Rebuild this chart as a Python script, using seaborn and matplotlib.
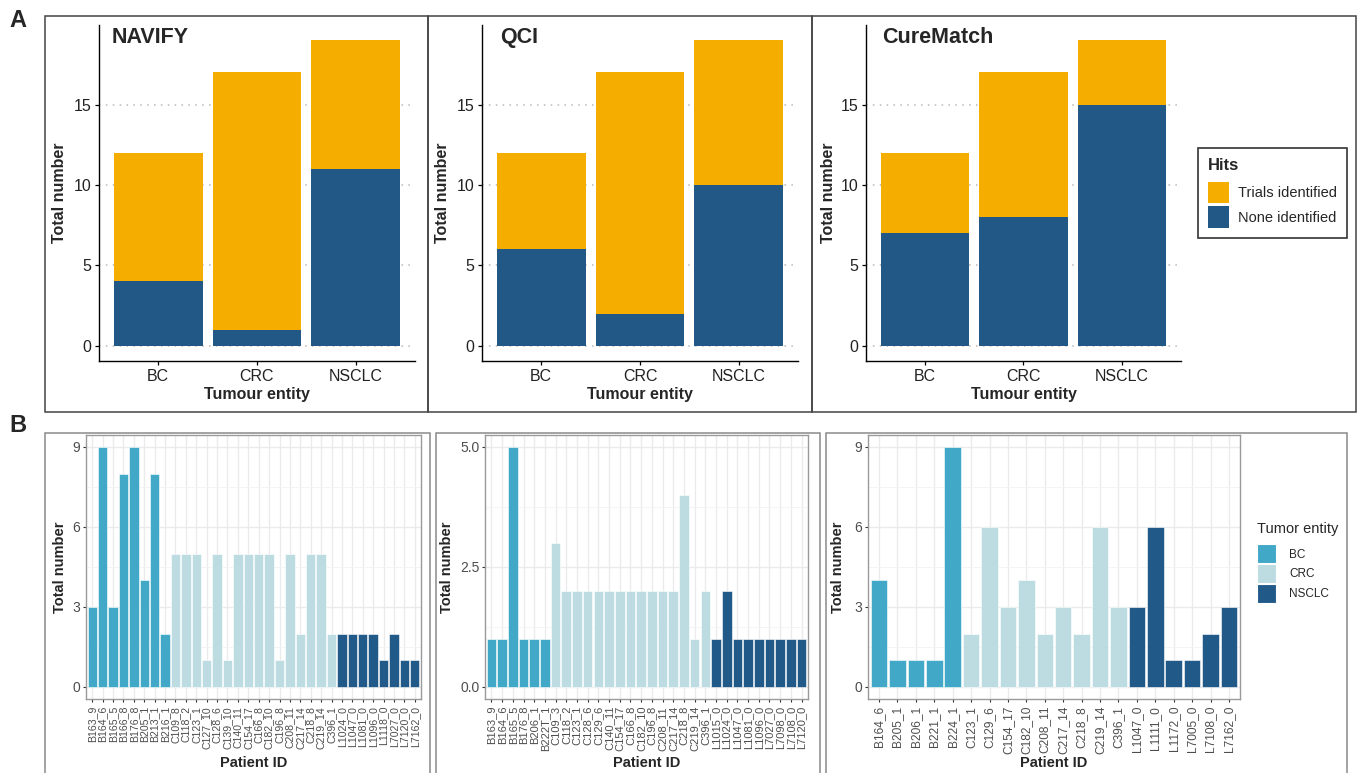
import numpy as np
import pandas as pd
import matplotlib
matplotlib.use("Agg")
import matplotlib.pyplot as plt
import seaborn as sns
from matplotlib.patches import Rectangle, Patch

# ---------------- data ----------------
entities = ["BC", "CRC", "NSCLC"]
tools = ["NAVIFY", "QCI", "CureMatch"]
totals = [12, 17, 19]
none_navify = [4, 1, 11]
none_qci = [6, 2, 10]
none_curematch = [7, 8, 15]
hits_labels = ["Trials identified", "None identified"]

b1_ids = ["B163_9", "B164_6", "B165_5", "B166_8", "B176_8", "B205_1", "B213_1", "B216_1",
          "C109_8", "C118_2", "C123_1", "C127_10", "C128_6", "C139_10", "C140_11", "C154_17",
          "C166_8", "C182_10", "C196_8", "C208_11", "C217_14", "C218_8", "C219_14", "C396_1",
          "L1024_0", "L1047_0", "L1081_0", "L1096_0", "L1118_0", "L7027_0", "L7120_0", "L7162_0"]
b1_vals = [3, 9, 3, 8, 9, 4, 8, 2,
           5, 5, 5, 1, 5, 1, 5, 5, 5, 5, 1, 5, 2, 5, 5, 2,
           2, 2, 2, 2, 1, 2, 1, 1]

b2_ids = ["B163_9", "B164_6", "B165_5", "B176_8", "B206_1", "B222T_1",
          "C109_3", "C118_2", "C123_1", "C128_6", "C129_6", "C140_11", "C154_17", "C166_8",
          "C182_10", "C196_8", "C208_11", "C217_14", "C218_8", "C219_14", "C396_1",
          "L1015_0", "L1024_0", "L1047_0", "L1081_0", "L1096_0", "L7027_0", "L7098_0",
          "L7108_0", "L7120_0"]
b2_vals = [1, 1, 5, 1, 1, 1,
           3, 2, 2, 2, 2, 2, 2, 2, 2, 2, 2, 2, 4, 1, 2,
           1, 2, 1, 1, 1, 1, 1, 1, 1]

b3_ids = ["B164_6", "B205_1", "B206_1", "B221_1", "B224_1",
          "C123_1", "C129_6", "C154_17", "C182_10", "C208_11", "C217_14", "C218_8", "C219_14", "C396_1",
          "L1047_0", "L1111_0", "L1172_0", "L7005_0", "L7108_0", "L7162_0"]
b3_vals = [4, 1, 1, 1, 9,
           2, 6, 3, 4, 2, 3, 2, 6, 3,
           3, 6, 1, 1, 2, 3]

prefix_entity = {"B": "BC", "C": "CRC", "L": "NSCLC"}

# ---------------- style ----------------
ORANGE = "#F5AD00"
BLUE = "#225886"
ent_pal = {"BC": "#41A8C7", "CRC": "#BCDCE2", "NSCLC": "#215A88"}

sns.set_theme(style="white")
plt.rcParams['font.family'] = ['Liberation Sans', 'DejaVu Sans']

W, H = 1362, 773
fig = plt.figure(figsize=(W / 100, H / 100), dpi=100)


def px_axes(x0, y0, x1, y1):
    return fig.add_axes([x0 / W, 1 - y1 / H, (x1 - x0) / W, (y1 - y0) / H])


def frac(rect, cx, cy):
    x0, y0, x1, y1 = rect
    return (cx - x0) / (x1 - x0), (y1 - cy) / (y1 - y0)


def box(x0, y0, x1, y1, ec, lw):
    fig.add_artist(Rectangle((x0 / W, 1 - y1 / H), (x1 - x0) / W, (y1 - y0) / H,
                             transform=fig.transFigure, fill=False, ec=ec, lw=lw))


# outer boxes
box(45, 16, 428, 412, "#444444", 1.1)
box(428, 16, 812, 412, "#444444", 1.1)
box(812, 16, 1356, 412, "#444444", 1.1)
box(45, 433, 430, 800, "#8a8a8a", 1.1)
box(436, 433, 820, 800, "#8a8a8a", 1.1)
box(826, 433, 1347, 800, "#8a8a8a", 1.1)

fig.text(9 / W, 1 - 27 / H, "A", fontsize=17, fontweight="bold", va="baseline")
fig.text(9 / W, 1 - 432 / H, "B", fontsize=17, fontweight="bold", va="baseline")

# ---------------- panel A ----------------
a_rects = [(99, 25, 415, 361), (482, 25, 798, 361), (866, 25, 1181, 361)]
a_none = [none_navify, none_qci, none_curematch]
a_ylab_x = [60, 443, 829]
a_title_x = [112, 500, 882]

for rect, name, nv, ylx, tx in zip(a_rects, tools, a_none, a_ylab_x, a_title_x):
    ax = px_axes(*rect)
    sns.barplot(x=entities, y=totals, color=ORANGE, saturation=1, width=0.9,
                errorbar=None, ax=ax, linewidth=0, zorder=2)
    sns.barplot(x=entities, y=nv, color=BLUE, saturation=1, width=0.9,
                errorbar=None, ax=ax, linewidth=0, zorder=3)
    ax.set_xlim(-0.6, 2.6)
    ax.set_ylim(-0.95, 19.95)
    ax.set_yticks([0, 5, 10, 15])
    ax.yaxis.grid(True, linestyle=(0, (1, 3.5)), color="#b8b8b8", lw=1.1)
    ax.xaxis.grid(False)
    ax.set_axisbelow(True)
    for s in ["top", "right"]:
        ax.spines[s].set_visible(False)
    for s in ["left", "bottom"]:
        ax.spines[s].set_color("black")
        ax.spines[s].set_linewidth(1.0)
    ax.tick_params(axis="both", length=3, width=0.9, color="black", labelsize=11.5,
                   labelcolor="#222222", pad=2.5, bottom=True, left=True)
    ax.set_ylabel("Total number", fontsize=11.5, fontweight="bold")
    ax.set_xlabel("Tumour entity", fontsize=11.5, fontweight="bold")
    ax.yaxis.set_label_coords(*frac(rect, ylx, 193))
    ax.yaxis.label.set(va="center", ha="center")
    ax.xaxis.set_label_coords(*frac(rect, (rect[0] + rect[2]) / 2, 395))
    ax.xaxis.label.set(va="center", ha="center")
    fx, fy = frac(rect, tx, 43)
    ax.text(fx, fy, name, transform=ax.transAxes, fontsize=15.5, fontweight="bold",
            ha="left", va="baseline")

leg = fig.legend([Patch(fc=ORANGE, ec="none"), Patch(fc=BLUE, ec="none")], hits_labels,
                 title="Hits", loc="upper left", bbox_to_anchor=(1198 / W, 1 - 148 / H),
                 bbox_transform=fig.transFigure, frameon=True, fancybox=False,
                 edgecolor="black", fontsize=10.5, title_fontsize=12,
                 handlelength=1.45, handleheight=1.9, borderpad=0.7, handletextpad=0.6,
                 labelspacing=0.2, alignment="left", borderaxespad=0)
leg.get_title().set_fontweight("bold")
leg.get_frame().set_linewidth(1.2)
leg._legend_box.sep = 6

# ---------------- panel B ----------------
b_rects = [(86, 435, 421, 699), (485, 435, 808, 699), (868, 435, 1240, 699)]
b_ids = [b1_ids, b2_ids, b3_ids]
b_vals = [b1_vals, b2_vals, b3_vals]
b_ticks = [[0, 3, 6, 9], [0, 2.5, 5.0], [0, 3, 6, 9]]
b_ticklabels = [["0", "3", "6", "9"], ["0.0", "2.5", "5.0"], ["0", "3", "6", "9"]]
b_minor = [[1.5, 4.5, 7.5], [1.25, 3.75], [1.5, 4.5, 7.5]]
b_ymax = [9, 5, 9]
b_xfs = [7.6, 8.0, 8.6]
b_ylab_x = [60, 447, 838]

for rect, ids, vals, tk, tkl, mn, ym, xfs, ylx in zip(b_rects, b_ids, b_vals, b_ticks,
                                                       b_ticklabels, b_minor, b_ymax, b_xfs,
                                                       b_ylab_x):
    ax = px_axes(*rect)
    df = pd.DataFrame({"id": ids, "n": vals,
                       "entity": [prefix_entity[i[0]] for i in ids]})
    sns.barplot(data=df, x="id", y="n", hue="entity", order=ids,
                hue_order=entities, palette=ent_pal, dodge=False, saturation=1,
                width=0.9, errorbar=None, ax=ax, edgecolor="white", linewidth=0.4,
                legend=False, zorder=2)
    n = len(ids)
    ax.set_xlim(-0.6, n - 0.4)
    ax.set_ylim(-0.05 * ym, 1.05 * ym)
    ax.set_yticks(tk)
    ax.set_yticklabels(tkl)
    ax.set_yticks(mn, minor=True)
    ax.grid(True, which="major", color="#EBEBEB", lw=1.0)
    ax.yaxis.grid(True, which="minor", color="#F3F3F3", lw=0.6)
    ax.set_axisbelow(True)
    for s in ax.spines.values():
        s.set_visible(True)
        s.set_color("#9a9a9a")
        s.set_linewidth(1.0)
    ax.tick_params(axis="y", which="major", length=2.5, width=0.8, color="#333333",
                   labelsize=10, labelcolor="#4D4D4D", pad=1.5, left=True)
    ax.tick_params(axis="y", which="minor", length=0)
    ax.tick_params(axis="x", length=2.5, width=0.8, color="#333333", labelsize=xfs,
                   labelcolor="#4D4D4D", pad=2.5, bottom=True, labelrotation=90)
    for lab in ax.get_xticklabels():
        lab.set_ha("center")
        lab.set_va("top")
    ax.set_ylabel("Total number", fontsize=10.5, fontweight="bold")
    ax.set_xlabel("Patient ID", fontsize=10.5, fontweight="bold")
    ax.yaxis.set_label_coords(*frac(rect, ylx, 567))
    ax.yaxis.label.set(va="center", ha="center")
    ax.xaxis.set_label_coords(*frac(rect, (rect[0] + rect[2]) / 2, 763))
    ax.xaxis.label.set(va="center", ha="center")

leg2 = fig.legend([Patch(fc=ent_pal[e], ec="white", lw=0.8) for e in entities], entities,
                  title="Tumor entity", loc="upper left",
                  bbox_to_anchor=(1257 / W, 1 - 522 / H), bbox_transform=fig.transFigure,
                  frameon=False, fontsize=8.5, title_fontsize=10.5,
                  handlelength=1.6, handleheight=2.1, borderpad=0, handletextpad=1.1,
                  labelspacing=0.05, alignment="left", borderaxespad=0)
leg2._legend_box.sep = 6

fig.savefig("out.png", dpi=100)
